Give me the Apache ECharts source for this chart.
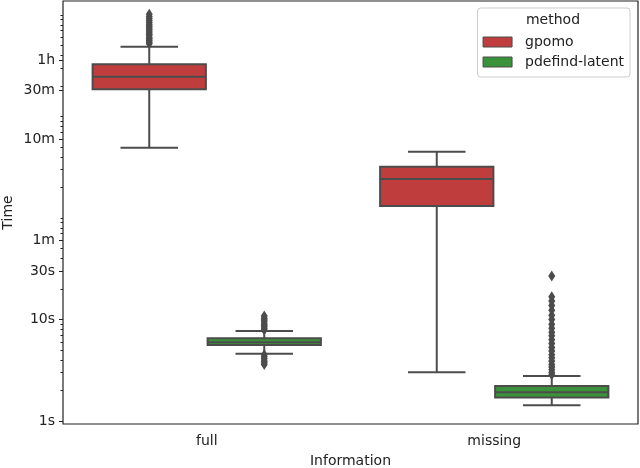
<!DOCTYPE html>
<html>
<head>
<meta charset="utf-8">
<script src="https://cdn.jsdelivr.net/npm/echarts@6/dist/echarts.min.js"></script>
<style>
html,body{margin:0;padding:0;background:#fff;}
#chart{width:640px;height:468px;}
</style>
</head>
<body>
<div id="chart"></div>
<script>
// ---- data (seconds) ----
const categories = ['full', 'missing'];
const methods = ['gpomo', 'pdefind-latent'];
// [lower whisker, Q1, median, Q3, upper whisker] per category
const gpomoBox = [[493, 1854, 2466, 3268, 4875], [3.02, 131, 242, 320, 450]];
const pdefindBox = [[4.6, 5.61, 5.96, 6.53, 7.7], [1.43, 1.70, 1.92, 2.21, 2.77]];
const gpomoOutliersFull = [5200, 5400, 5600, 5800, 6000, 6300, 6500, 6800, 7100, 7400, 7700, 8000, 8400, 8800, 9200, 9600, 10200];
const gpomoOutliersMissing = [];
const pdefindOutliersFull = [7.9, 8.2, 8.5, 8.8, 9.1, 9.5, 9.9, 10.3, 10.8, 4.5, 4.3, 4.1, 3.9, 3.75, 3.6];
const pdefindOutliersMissing = [2.85, 3.0, 3.2, 3.4, 3.6, 3.9, 4.2, 4.5, 4.9, 5.3, 5.8, 6.3, 6.9, 7.5, 8.2, 9.0, 10, 11, 12.3, 13.7, 15.2, 16.8, 26.8];
const tickSeconds = [1, 10, 30, 60, 600, 1800, 3600];
const tickLabels = ['1s', '10s', '30s', '1m', '10m', '30m', '1h'];

const RED = '#c03d3e';
const GREEN = '#3a923a';
const LINE = '#4c4c4c';
const FONT = 'DejaVu Sans';

const L = v => Math.log10(v);
const yMin = -0.0296, yMax = 4.138;

const majorTicks = tickSeconds.map(L);
const minorTicks = [];
for (let k = 0; k <= 4; k++) {
  for (let n = 1; n <= 9; n++) {
    const v = n * Math.pow(10, k);
    const lv = L(v);
    if (lv <= yMax && !tickSeconds.includes(v)) minorTicks.push(lv);
  }
}

function boxData(box) {
  return box.map((b, i) => [i].concat(b.map(L)));
}
function outlierData(lists) {
  const out = [];
  lists.forEach((lst, i) => lst.forEach(v => out.push([i, L(v)])));
  return out;
}

function makeBoxRender(offsetFrac, fill) {
  return function (params, api) {
    const band = api.size([1, 0])[0];
    const cat = api.value(0);
    const pLo = api.coord([cat, api.value(1)]);
    const pQ1 = api.coord([cat, api.value(2)]);
    const pMed = api.coord([cat, api.value(3)]);
    const pQ3 = api.coord([cat, api.value(4)]);
    const pHi = api.coord([cat, api.value(5)]);
    const cx = pLo[0] + offsetFrac * band;
    const hw = 0.197 * band;
    const cw = 0.1 * band;
    const ls = { stroke: LINE, lineWidth: 2 };
    return {
      type: 'group',
      children: [
        { type: 'line', shape: { x1: cx, y1: pLo[1], x2: cx, y2: pQ1[1] }, style: ls },
        { type: 'line', shape: { x1: cx, y1: pQ3[1], x2: cx, y2: pHi[1] }, style: ls },
        { type: 'line', shape: { x1: cx - cw, y1: pLo[1], x2: cx + cw, y2: pLo[1] }, style: ls },
        { type: 'line', shape: { x1: cx - cw, y1: pHi[1], x2: cx + cw, y2: pHi[1] }, style: ls },
        { type: 'rect', shape: { x: cx - hw, y: pQ3[1], width: 2 * hw, height: pQ1[1] - pQ3[1] },
          style: { fill: fill, stroke: LINE, lineWidth: 2 } },
        { type: 'line', shape: { x1: cx - hw, y1: pMed[1], x2: cx + hw, y2: pMed[1] }, style: ls }
      ]
    };
  };
}
function makeOutlierRender(offsetFrac) {
  return function (params, api) {
    const band = api.size([1, 0])[0];
    const p = api.coord([api.value(0), api.value(1)]);
    const cx = p[0] + offsetFrac * band, cy = p[1];
    return {
      type: 'polygon',
      shape: { points: [[cx, cy - 5.5], [cx + 3.5, cy], [cx, cy + 5.5], [cx - 3.5, cy]] },
      style: { fill: LINE, stroke: null }
    };
  };
}

const chart = echarts.init(document.getElementById('chart'), null, { renderer: 'canvas' });
chart.setOption({
  animation: false,
  backgroundColor: '#fff',
  textStyle: { fontFamily: FONT },
  grid: { left: 63, right: 2, top: 1, bottom: 44, show: true, borderColor: '#222', borderWidth: 1.2, backgroundColor: 'transparent', outerBoundsMode: 'none', containLabel: false },
  xAxis: {
    type: 'category',
    data: categories,
    boundaryGap: true,
    axisLine: { show: false },
    axisTick: { alignWithLabel: true, length: 4, lineStyle: { color: '#222', width: 1 } },
    axisLabel: { fontSize: 14, color: '#222', fontFamily: FONT, margin: 10 },
    name: 'Information',
    nameLocation: 'middle',
    nameGap: 30,
    nameMoveOverlap: false,
    nameTextStyle: { fontSize: 14, color: '#222', fontFamily: FONT },
    splitLine: { show: false }
  },
  yAxis: [{
    type: 'value',
    min: yMin, max: yMax,
    axisLine: { show: false },
    splitLine: { show: false },
    axisTick: { show: true, length: 4, customValues: majorTicks, lineStyle: { color: '#222', width: 1 } },
    axisLabel: {
      fontSize: 14, color: '#222', fontFamily: FONT, margin: 8,
      customValues: majorTicks,
      formatter: function (v) {
        for (let i = 0; i < majorTicks.length; i++) if (Math.abs(majorTicks[i] - v) < 1e-6) return tickLabels[i];
        return '';
      }
    },
    name: 'Time',
    nameLocation: 'middle',
    nameGap: 48,
    nameMoveOverlap: false,
    nameTextStyle: { fontSize: 14, color: '#222', fontFamily: FONT }
  }, {
    type: 'value',
    position: 'left',
    min: yMin, max: yMax,
    axisLine: { show: false },
    splitLine: { show: false },
    axisLabel: { show: false },
    axisTick: { show: true, length: 2.5, customValues: minorTicks, lineStyle: { color: '#222', width: 1 } }
  }],
  legend: {
    orient: 'vertical',
    right: 10,
    top: 8,
    padding: [26, 6, 7, 5],
    itemWidth: 29,
    itemHeight: 10,
    itemGap: 4,
    backgroundColor: '#fff',
    borderColor: '#cccccc',
    borderWidth: 1,
    borderRadius: 3,
    textStyle: { fontSize: 14, color: '#222', fontFamily: FONT, lineHeight: 16, padding: [0, 0, 0, 8] },
    data: [
      { name: 'gpomo', icon: 'rect', itemStyle: { color: RED, borderColor: LINE, borderWidth: 1 } },
      { name: 'pdefind-latent', icon: 'rect', itemStyle: { color: GREEN, borderColor: LINE, borderWidth: 1 } }
    ]
  },
  graphic: [{
    type: 'text', x: 553, y: 20, z: 100,
    style: { text: 'method', fontSize: 14, fontFamily: FONT, fill: '#222', align: 'center', verticalAlign: 'middle' }
  }],
  series: [
    { name: methods[0], type: 'custom', itemStyle: { color: RED }, renderItem: makeBoxRender(-0.2, RED), data: boxData(gpomoBox), encode: { x: 0, y: [1, 2, 3, 4, 5] } },
    { name: methods[1], type: 'custom', itemStyle: { color: GREEN }, renderItem: makeBoxRender(0.2, GREEN), data: boxData(pdefindBox), encode: { x: 0, y: [1, 2, 3, 4, 5] } },
    { name: 'gpomo outliers', type: 'custom', renderItem: makeOutlierRender(-0.2), data: outlierData([gpomoOutliersFull, gpomoOutliersMissing]), encode: { x: 0, y: 1 } },
    { name: 'pdefind-latent outliers', type: 'custom', renderItem: makeOutlierRender(0.2), data: outlierData([pdefindOutliersFull, pdefindOutliersMissing]), encode: { x: 0, y: 1 } }
  ]
});
</script>
</body>
</html>
